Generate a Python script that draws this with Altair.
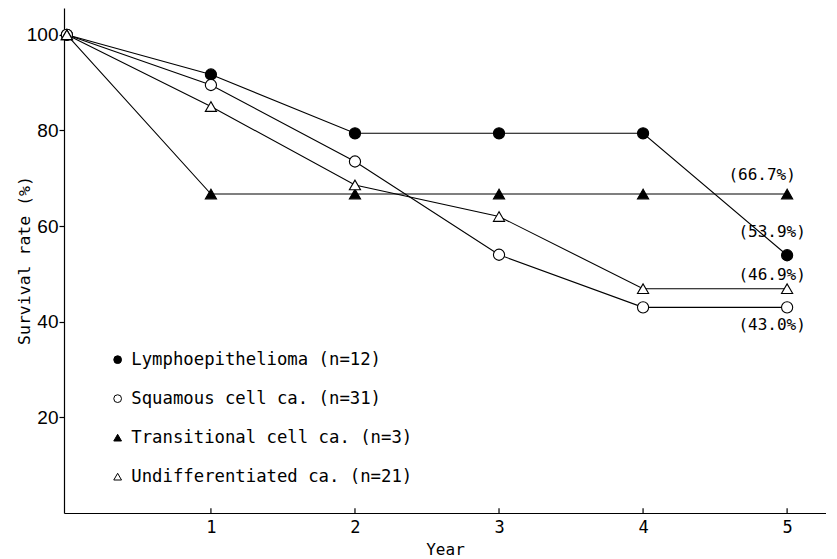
import altair as alt
import pandas as pd

# ---- data ----
years = [0, 1, 2, 3, 4, 5]
series_names = [
    "Lymphoepithelioma (n=12)",
    "Squamous cell ca. (n=31)",
    "Transitional cell ca. (n=3)",
    "Undifferentiated ca. (n=21)",
]
lympho = [100, 91.7, 79.4, 79.4, 79.4, 53.9]
squamous = [100, 89.5, 73.5, 54.0, 43.0, 43.0]
transitional = [100, 66.7, 66.7, 66.7, 66.7, 66.7]
undiff = [100, 85.0, 68.6, 62.0, 46.9, 46.9]

label_texts = ["(66.7%)", "(53.9%)", "(46.9%)", "(43.0%)"]
label_values = [66.7, 53.9, 46.9, 43.0]
label_year = 5

x_ticks = [1, 2, 3, 4, 5]
y_ticks = [20, 40, 60, 80, 100]

# ---- styles ----
MONO = "DejaVu Sans Mono"
SANS = "Liberation Sans Narrow, Liberation Sans, sans-serif"
label_offsets = [(-25, -19), (-15, -23), (-15, -14), (-15, 18)]

rows = []
for name, vals in zip(series_names, [lympho, squamous, transitional, undiff]):
    for yr, v in zip(years, vals):
        rows.append({"series": name, "year": yr, "rate": v})
df = pd.DataFrame(rows)

x_scale = alt.Scale(domain=[-0.02, 5.27], nice=False, zero=False)
y_scale = alt.Scale(domain=[0, 105.6], nice=False, zero=False)

x_axis = alt.Axis(
    values=x_ticks, format="d", ticks=False, grid=False,
    labelFont=MONO, labelFontSize=17, labelColor="black", labelPadding=6,
    domainColor="black", domainWidth=1.2,
    title="Year", titleFont=MONO, titleFontSize=16, titleFontWeight="normal",
    titleColor="black", titleX=381, titleY=36, titleBaseline="middle", titleAlign="center",
)
y_axis = alt.Axis(
    values=y_ticks, format="d", tickSize=5, tickColor="black", tickWidth=1.2, grid=False,
    labelFont=SANS, labelFontSize=19, labelColor="black", labelPadding=1,
    domainColor="black", domainWidth=1.2,
    title="Survival rate (%)", titleFont=MONO, titleFontSize=16.5, titleFontWeight="normal",
    titleColor="black", titleX=-40, titleY=252, titleAngle=270,
    titleBaseline="middle", titleAlign="center",
)

X_ENC = alt.X("year:Q", scale=x_scale, axis=x_axis)
Y_ENC = alt.Y("rate:Q", scale=y_scale, axis=y_axis)

fill_scale = alt.Scale(domain=series_names, range=["black", "white", "black", "white"])
shape_scale = alt.Scale(domain=series_names,
                        range=["circle", "circle", "triangle-up", "triangle-up"])
stroke_scale = alt.Scale(domain=series_names, range=["black", "black", "black", "black"])

legend = alt.Legend(
    orient="none", legendX=45, legendY=343, title=None, padding=0,
    labelFont=MONO, labelFontSize=17.3, labelColor="black", labelLimit=400,
    symbolSize=60, symbolStrokeWidth=1,
    symbolOpacity=1, rowPadding=21, labelOffset=5,
)

lines = alt.Chart(df).mark_line(color="black", strokeWidth=1.1).encode(
    x=X_ENC, y=Y_ENC, detail="series:N"
)

points = alt.Chart(df).mark_point(
    strokeWidth=1.1, opacity=1, size=125
).encode(
    x=X_ENC, y=Y_ENC,
    fill=alt.Fill("series:N", scale=fill_scale, legend=legend),
    shape=alt.Shape("series:N", scale=shape_scale, legend=legend),
    stroke=alt.Stroke("series:N", scale=stroke_scale, legend=legend),
)

tick_df = pd.DataFrame({"year": x_ticks, "rate": [0] * len(x_ticks), "rate2": [1.0] * len(x_ticks)})
tick_rules = alt.Chart(tick_df).mark_rule(color="black", strokeWidth=1.2).encode(
    x=X_ENC, y=Y_ENC, y2="rate2:Q"
)

text_layers = []
for txt, val, (dx, dy) in zip(label_texts, label_values, label_offsets):
    tdf = pd.DataFrame({"year": [label_year], "rate": [val], "txt": [txt]})
    text_layers.append(
        alt.Chart(tdf).mark_text(
            font=MONO, fontSize=16, color="black", align="center",
            baseline="middle", dx=dx, dy=dy,
        ).encode(x=X_ENC, y=Y_ENC, text="txt:N")
    )

chart = alt.layer(tick_rules, lines, points, *text_layers).properties(
    width=762, height=505,
    padding={"left": 56, "top": 0, "right": 0, "bottom": 44},
    autosize=alt.AutoSizeParams(type="none"),
    background="white",
).configure_view(strokeWidth=0)

chart.save("out.html", embed_options={"renderer": "svg", "actions": False})
